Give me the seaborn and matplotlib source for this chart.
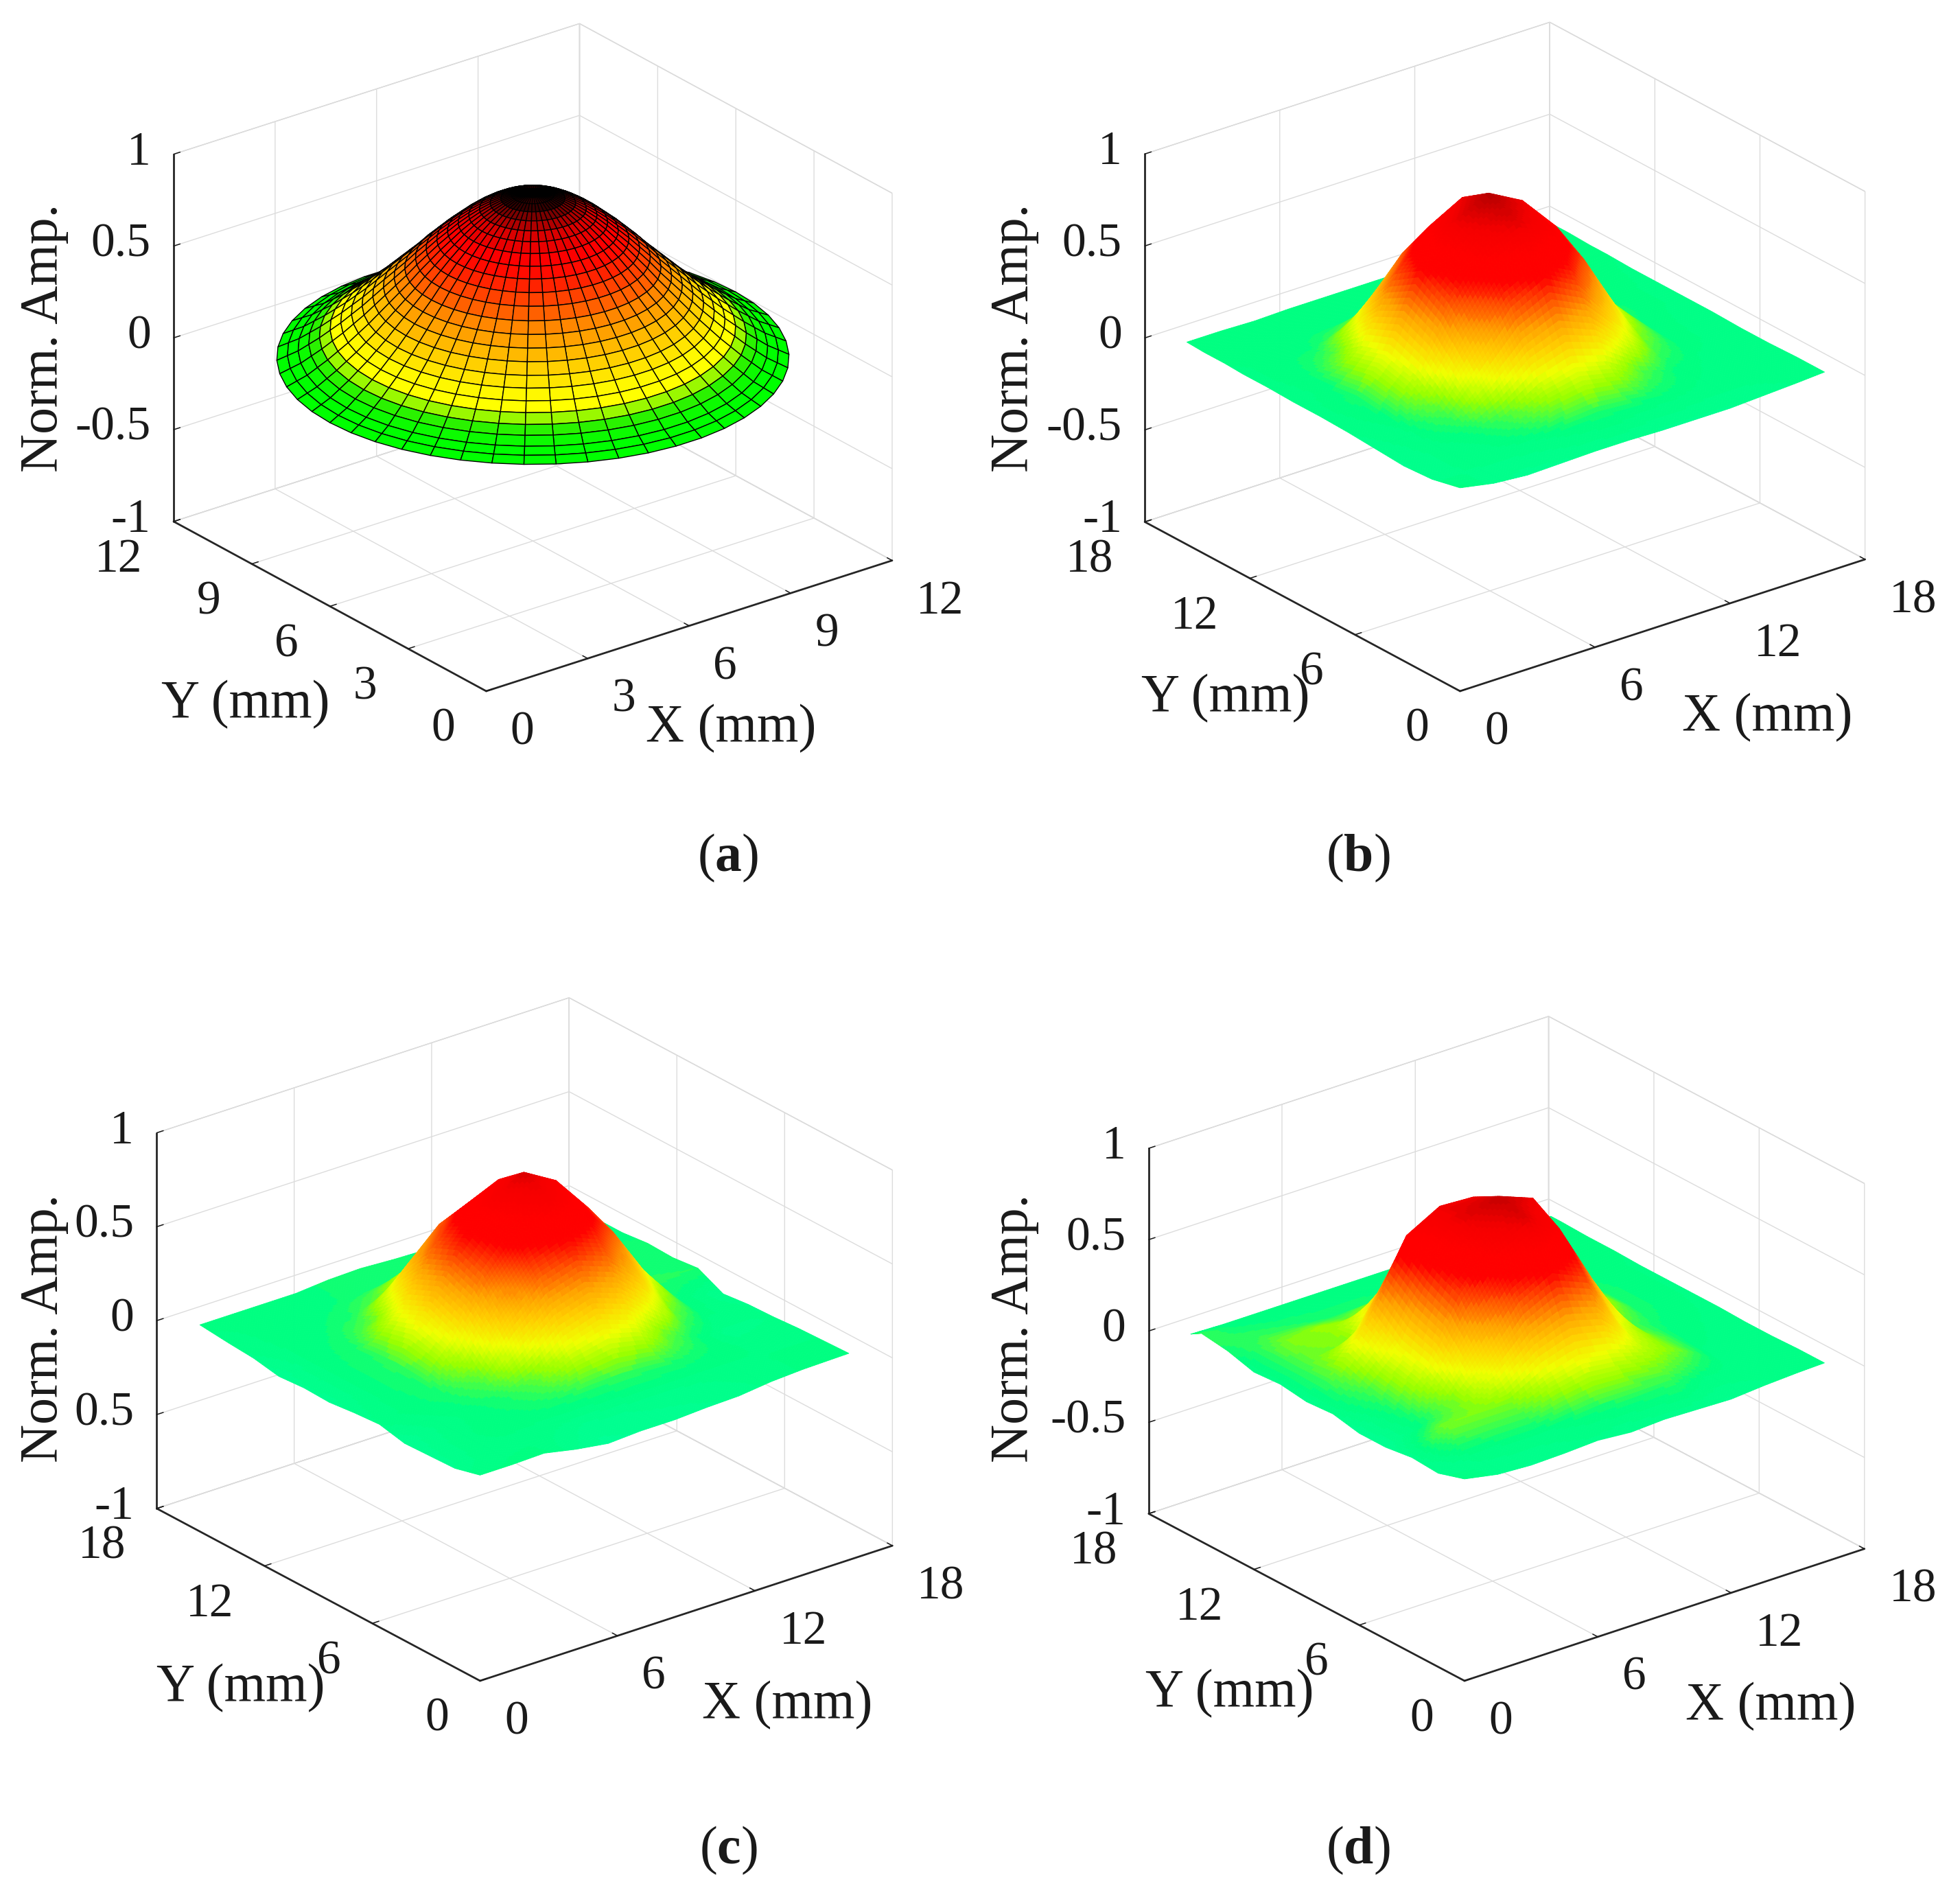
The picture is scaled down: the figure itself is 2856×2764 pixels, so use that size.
import numpy as np
import seaborn as sns
import matplotlib
matplotlib.use("Agg")
import matplotlib.pyplot as plt
from matplotlib.colors import ListedColormap
from mpl_toolkits.mplot3d import proj3d

W, H = 2856, 2764
DPI = 200

# ---- panel (a): radial profile of the dome
A_RADIUS = [0, .25, .5, .75, 1, 1.25, 1.5, 1.75, 2, 2.25, 2.5, 2.75, 3, 3.25, 3.5,
            3.75, 4, 4.25, 4.5, 4.75, 5, 5.25, 5.5, 5.75, 6]
A_AMP = [.90, .895, .885, .865, .84, .81, .775, .735, .69, .645, .595, .545, .49, .44,
         .39, .34, .29, .245, .2, .16, .12, .085, .05, .025, 0]
A_CENTER = (6, 6)
A_SPOKES = 50

# ---- panels (b), (c), (d): sampled amplitude, rows = Y, columns = X
GRID_BD_X = [0, 1.5, 3, 4.5, 6, 7.5, 9, 10.5, 12, 13.5, 15, 16.2]
GRID_B_Y = [0, 1.6, 3.2, 4.8, 6.4, 8, 9.5, 11, 12.4, 13.4, 14.6, 15.6]
GRID_D_Y = [0, 1.5, 3, 4.5, 6, 7.5, 9, 10.5, 12, 13.5, 15, 15.6]
GRID_C_X = [0, 1.4, 2.8, 4.2, 5.6, 7.0, 8.5, 9.9, 11.3, 12.7, 14.1, 16.1]
GRID_C_Y = [0, 1.4, 2.8, 4.2, 5.6, 7.0, 8.4, 9.8, 11.2, 12.6, 14.0, 15.6]

B_AMP = [
    [.105, .07, .055, .06, .065, .065, .06, .06, .06, .07, .08, .09],
    [.07, .08, .085, .09, .105, .115, .105, .10, .09, .085, .085, .09],
    [.06, .085, .10, .16, .27, .32, .27, .16, .105, .09, .085, .085],
    [.07, .09, .16, .38, .60, .70, .60, .38, .17, .10, .09, .085],
    [.08, .10, .27, .60, .84, .92, .84, .60, .27, .105, .09, .09],
    [.085, .115, .32, .70, .90, 1.0, .90, .70, .32, .115, .095, .09],
    [.085, .10, .27, .60, .80, .90, .82, .60, .27, .11, .095, .09],
    [.09, .10, .16, .38, .58, .68, .58, .38, .17, .105, .10, .09],
    [.09, .10, .105, .16, .27, .33, .27, .16, .105, .10, .10, .095],
    [.095, .10, .10, .105, .11, .115, .11, .105, .10, .10, .10, .095],
    [.095, .10, .10, .10, .10, .10, .10, .10, .10, .10, .10, .10],
    [.10, .10, .095, .10, .10, .10, .10, .10, .10, .095, .10, .10],
]
C_AMP = [
    [.095, .095, .10, .065, .04, .05, .05, .06, .065, .085, .095, .10],
    [.06, .09, .09, .08, .06, .06, .07, .07, .08, .09, .095, .095],
    [.055, .09, .10, .105, .115, .125, .13, .125, .115, .10, .09, .09],
    [.05, .08, .10, .12, .18, .31, .37, .31, .18, .11, .07, .08],
    [.08, .10, .115, .18, .42, .58, .64, .58, .42, .18, .10, .075],
    [.07, .10, .125, .31, .58, .77, .86, .77, .58, .31, .11, .06],
    [.055, .10, .13, .37, .64, .84, .94, .84, .64, .37, .13, .125],
    [.06, .10, .125, .31, .58, .75, .83, .75, .58, .31, .12, .11],
    [.05, .10, .115, .18, .42, .58, .64, .58, .42, .18, .11, .115],
    [.075, .10, .105, .12, .18, .31, .37, .31, .18, .11, .12, .10],
    [.085, .10, .10, .105, .115, .125, .13, .125, .115, .10, .09, .10],
    [.10, .10, .10, .10, .115, .12, .11, .105, .11, .10, .10, .10],
]
D_AMP = [
    [.105, .07, .06, .065, .075, .06, .07, .065, .06, .075, .085, .09],
    [.06, .08, .09, .09, .10, .115, .12, .13, .09, .085, .085, .09],
    [.07, .19, .19, .19, .28, .33, .30, .24, .18, .09, .085, .085],
    [.05, .10, .19, .38, .60, .70, .62, .30, .18, .10, .09, .085],
    [.05, .12, .29, .62, .84, .93, .81, .47, .16, .11, .095, .09],
    [.08, .15, .33, .70, .92, .97, .90, .58, .24, .12, .10, .09],
    [.07, .20, .45, .80, .90, .89, .74, .52, .24, .12, .10, .09],
    [.09, .18, .19, .42, .62, .66, .58, .36, .18, .11, .10, .09],
    [.08, .19, .21, .19, .26, .30, .26, .16, .11, .10, .10, .095],
    [.12, .14, .13, .12, .12, .115, .11, .105, .10, .10, .10, .095],
    [.14, .11, .10, .10, .10, .10, .10, .10, .10, .10, .10, .10],
    [.105, .10, .10, .10, .10, .10, .10, .10, .10, .10, .10, .10],
]

# ---- ticks and texts
TICKS_12 = [0, 3, 6, 9, 12]
TICKS_18 = [0, 6, 12, 18]
Z_TICKS = [-1, -.5, 0, .5, 1]
Z_LABELS = ['-1', '-0.5', '0', '0.5', '1']
Z_LABELS_C = ['-1', '0.5', '0', '0.5', '1']
CAPTIONS = ['a', 'b', 'c', 'd']

# ---- colour ramps: amplitude 0..1 in equal steps
RAMP_A = ['#00ff00', '#00ff00', '#30f000', '#ffff00', '#ffff00', '#ffee00', '#ffd800',
          '#ffc000', '#ffa800', '#ff8c00', '#ff7000', '#ff5000', '#ff3000', '#ff1000',
          '#ff0000', '#f00000', '#d80000', '#900000', '#200000', '#000000', '#000000']
RAMP_BCD = ['#00ffa0', '#00ff7f', '#96ff00', '#f0ff00', '#ffd000', '#ffa000', '#ff5500',
            '#ff0000', '#ff0000', '#f50000', '#b80000']

sns.set_theme(style='ticks', context='paper')
plt.rcParams['font.family'] = ['Liberation Serif', 'DejaVu Serif']
plt.rcParams['mathtext.fontset'] = 'custom'
plt.rcParams['mathtext.rm'] = 'Liberation Serif'
plt.rcParams['mathtext.bf'] = 'Liberation Serif:bold'
plt.rcParams['axes.unicode_minus'] = False

cmap_a = ListedColormap(sns.blend_palette(RAMP_A, n_colors=64))
cmap_bcd = ListedColormap(sns.blend_palette(RAMP_BCD, n_colors=64))

fig = plt.figure(figsize=(W / DPI, H / DPI), dpi=DPI, facecolor='white')

TICK_FS = 25
LABEL_FS = 28
DARK = '#262626'


def place(ax, origin, width, azim, elev, zratio, lims):
    """Fit the 3-D box so its front corner and span land on the given pixels."""
    ax.set_proj_type('ortho')
    ax.view_init(elev=elev, azim=azim)
    ax.set_box_aspect((1, 1, zratio))
    ax.set_xlim(0, lims, view_margin=0)
    ax.set_ylim(0, lims, view_margin=0)
    ax.set_zlim(-1, 1, view_margin=0)
    base = 1000
    ax.set_position([0, 0, base / W, base / H])
    ax.apply_aspect()

    def px(x, y, z):
        a, b, _ = proj3d.proj_transform(x, y, z, ax.get_proj())
        return ax.transData.transform((a, b))
    o = px(0, 0, -1)
    xe = px(lims, 0, -1)
    ye = px(0, lims, -1)
    f = width / (xe[0] - ye[0])
    left = origin[0] - f * o[0]
    bottom = (H - origin[1]) - f * o[1]
    ax.set_position([left / W, bottom / H, f * base / W, f * base / H])


def style(ax, ticks, zlabels, pads):
    ax.set_facecolor('none')
    ax.grid(True)
    for axis, pad in zip((ax.xaxis, ax.yaxis, ax.zaxis), pads):
        axis.set_pane_color((1, 1, 1, 1))
        axis.pane.set_edgecolor('#d2d2d2')
        axis.pane.set_linewidth(0.5)
        axis._axinfo['grid'].update(color='#dcdcdc', linewidth=0.5)
        axis._axinfo['axisline'].update(color=DARK, linewidth=0.55)
        axis._axinfo['tick'].update(inward_factor=0.0, outward_factor=0.2,
                                    linewidth={True: 0.55, False: 0.55})
        axis.set_tick_params(pad=pad, labelsize=TICK_FS, colors='#1a1a1a')
    ax.set_xticks(ticks)
    ax.set_yticks(ticks)
    ax.set_xticklabels([str(t) for t in ticks])
    ax.set_yticklabels([str(t) for t in ticks])
    ax.set_zticks(Z_TICKS)
    ax.set_zticklabels(zlabels)
    ax.zaxis.set_ticks_position('upper')
    for t in ax.zaxis.get_ticklabels():
        t.set_ha('right')
        t.set_va('center')
    for t in ax.xaxis.get_ticklabels():
        t.set_ha('left')
        t.set_va('center')
    for t in ax.yaxis.get_ticklabels():
        t.set_ha('right')
        t.set_va('center')


def shaded_mesh(xs, ys, amp, steps=12):
    """Interpolated shading of the read samples: each cell is drawn as small facets."""
    xs, ys, amp = np.asarray(xs, float), np.asarray(ys, float), np.asarray(amp, float)
    pi = np.linspace(0, len(xs) - 1, (len(xs) - 1) * steps + 1)
    pj = np.linspace(0, len(ys) - 1, (len(ys) - 1) * steps + 1)
    fx = np.interp(pi, np.arange(len(xs)), xs)
    fy = np.interp(pj, np.arange(len(ys)), ys)
    by_x = np.array([np.interp(pi, np.arange(len(xs)), row) for row in amp])
    fine = np.array([np.interp(pj, np.arange(len(ys)), col) for col in by_x.T]).T
    fxx, fyy = np.meshgrid(fx, fy)
    return fxx, fyy, fine


def facet_colors(z, cmap):
    mid = (z[:-1, :-1] + z[1:, :-1] + z[:-1, 1:] + z[1:, 1:]) / 4
    return cmap(np.clip(mid, 0, 1))


def text_px(ax, x, y, s, **kw):
    ax.text2D(x / W, 1 - y / H, s, transform=fig.transFigure, ha='center', va='center',
              color='#1a1a1a', clip_on=False, **kw)


PANELS = [
    dict(origin=(708.5, 1007), width=1047, azim=-127.6, lim=12, ticks=TICKS_12, zl=Z_LABELS,
         norm=(64, 492), xl=(1065, 1062), yl=(358, 1027), cap=(1061, 1250)),
    dict(origin=(2127.5, 1007), width=1049.5, azim=-127.9, lim=18, ticks=TICKS_18, zl=Z_LABELS,
         norm=(1478, 492), xl=(2575, 1046), yl=(1786, 1018), cap=(1979, 1250), amp=B_AMP,
         gx=GRID_BD_X, gy=GRID_B_Y),
    dict(origin=(699.5, 2449), width=1072, azim=-128.1, lim=18, ticks=TICKS_18, zl=Z_LABELS_C,
         norm=(64, 1935), xl=(1147, 2485), yl=(351, 2460), cap=(1061, 2696), amp=C_AMP,
         gx=GRID_C_X, gy=GRID_C_Y),
    dict(origin=(2134, 2449), width=1043, azim=-128.3, lim=18, ticks=TICKS_18, zl=Z_LABELS,
         norm=(1478, 1935), xl=(2580, 2487), yl=(1792, 2468), cap=(1979, 2696), amp=D_AMP,
         gx=GRID_BD_X, gy=GRID_D_Y),
]

for cap, p in zip(CAPTIONS, PANELS):
    ax = fig.add_axes([0, 0, .3, .3], projection='3d')
    place(ax, p['origin'], p['width'], p['azim'], 24.7, 0.789, p['lim'])
    style(ax, p['ticks'], p['zl'], pads=(9, 9, -1))
    if 'amp' not in p:
        rr = np.asarray(A_RADIUS)
        th = np.linspace(0, 2 * np.pi, A_SPOKES + 1)
        X = A_CENTER[0] + np.outer(rr, np.cos(th))
        Y = A_CENTER[1] + np.outer(rr, np.sin(th))
        Z = np.outer(np.asarray(A_AMP), np.ones_like(th))
        surf = ax.plot_surface(X, Y, Z, rstride=1, cstride=1, shade=False,
                               facecolors=facet_colors(Z, cmap_a))
        surf.set_edgecolor('black')
        surf.set_linewidth(0.5)
    else:
        X, Y, Z = shaded_mesh(p['gx'], p['gy'], p['amp'])
        surf = ax.plot_surface(X, Y, Z, rstride=1, cstride=1, shade=False,
                               facecolors=facet_colors(Z, cmap_bcd))
        surf.set_linewidth(0.3)
    ax.set_xlabel('')
    ax.set_ylabel('')
    ax.set_zlabel('')
    text_px(ax, *p['norm'], 'Norm. Amp.', fontsize=LABEL_FS, rotation=90)
    text_px(ax, *p['xl'], 'X (mm)', fontsize=LABEL_FS)
    text_px(ax, *p['yl'], 'Y (mm)', fontsize=LABEL_FS)
    text_px(ax, *p['cap'], '($\\mathbf{%s}$)' % cap, fontsize=LABEL_FS)

fig.savefig('out.png', dpi=DPI, facecolor='white')
